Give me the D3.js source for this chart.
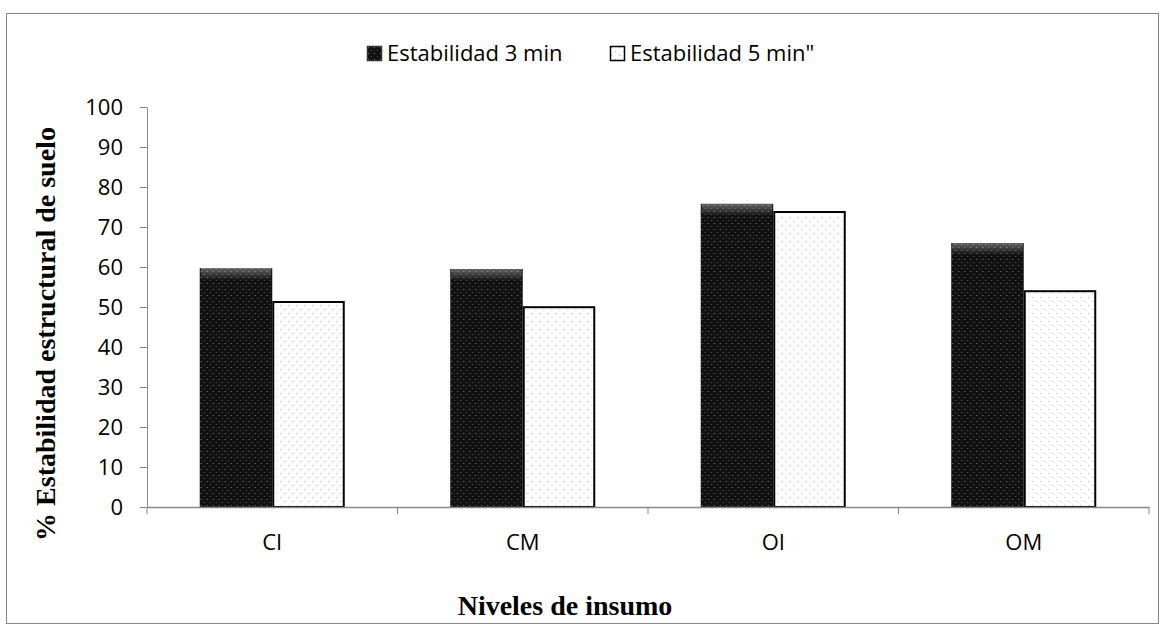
<!DOCTYPE html>
<html>
<head>
  <meta charset="utf-8" />
  <script src="https://d3js.org/d3.v7.min.js"></script>
  <style>
    body { margin: 0; background: #fff; }
  </style>
</head>
<body>
<script>
  const categories = ["CI", "CM", "OI", "OM"];
  const seriesNames = ["Estabilidad 3 min", "Estabilidad 5 min\""];
  const stab3 = [59.7, 59.5, 75.8, 66.0];
  const stab5 = [51.5, 50.2, 74.0, 54.2];
  const yTicks = [0, 10, 20, 30, 40, 50, 60, 70, 80, 90, 100];

  const width = 1167, height = 624;
  const plot = { left: 147, right: 1149, top: 107, bottom: 507 };
  const sans = "'Open Sans', sans-serif";
  const serif = "'Liberation Serif', 'Times New Roman', serif";

  const svg = d3.select("body").append("svg")
    .attr("width", width).attr("height", height);

  const defs = svg.append("defs");
  // dotted pattern for the dark bars
  const pDark = defs.append("pattern").attr("id", "dark")
    .attr("patternUnits", "userSpaceOnUse").attr("width", 6).attr("height", 6);
  pDark.append("rect").attr("width", 6).attr("height", 6).attr("fill", "#111");
  pDark.append("rect").attr("x", 1).attr("y", 1).attr("width", 1).attr("height", 1).attr("fill", "#777");
  pDark.append("rect").attr("x", 4).attr("y", 4).attr("width", 1).attr("height", 1).attr("fill", "#555");
  // dotted pattern for the light bars
  const pLight = defs.append("pattern").attr("id", "light")
    .attr("patternUnits", "userSpaceOnUse").attr("width", 8).attr("height", 8);
  pLight.append("rect").attr("width", 8).attr("height", 8).attr("fill", "#fff");
  pLight.append("rect").attr("x", 1).attr("y", 1).attr("width", 1).attr("height", 1).attr("fill", "#aaa");
  pLight.append("rect").attr("x", 5).attr("y", 5).attr("width", 1).attr("height", 1).attr("fill", "#bbb");
  // top bevel shading
  const g = defs.append("linearGradient").attr("id", "bevel")
    .attr("x1", 0).attr("y1", 0).attr("x2", 0).attr("y2", 1);
  g.append("stop").attr("offset", 0).attr("stop-color", "#fff").attr("stop-opacity", 0.35);
  g.append("stop").attr("offset", 1).attr("stop-color", "#fff").attr("stop-opacity", 0);

  // outer frame
  svg.append("rect").attr("x", 6.5).attr("y", 13.5).attr("width", 1152).attr("height", 610)
    .attr("fill", "none").attr("stroke", "#888").attr("stroke-width", 1);

  const x0 = d3.scaleBand().domain(categories).range([plot.left, plot.right]);
  const x1 = d3.scaleBand().domain([0, 1]).range([0, 145]);
  const y = d3.scaleLinear().domain([0, 100]).range([plot.bottom, plot.top]);

  const data = categories.map((c, i) => ({ cat: c, vals: [stab3[i], stab5[i]] }));

  const groups = svg.append("g").selectAll("g").data(data).join("g")
    .attr("transform", d => `translate(${x0(d.cat) + (x0.bandwidth() - 145) / 2},0)`);

  groups.each(function (d) {
    const gg = d3.select(this);
    // dark bar
    gg.append("rect")
      .attr("x", x1(0)).attr("y", y(d.vals[0]))
      .attr("width", x1.bandwidth()).attr("height", y(0) - y(d.vals[0]))
      .attr("fill", "url(#dark)");
    gg.append("rect")
      .attr("x", x1(0) + 1).attr("y", y(d.vals[0]))
      .attr("width", x1.bandwidth() - 2).attr("height", 12)
      .attr("fill", "url(#bevel)");
    // light bar
    gg.append("rect")
      .attr("x", x1(1) + 1).attr("y", y(d.vals[1]) + 1)
      .attr("width", x1.bandwidth() - 2).attr("height", y(0) - y(d.vals[1]) - 1)
      .attr("fill", "url(#light)").attr("stroke", "#000").attr("stroke-width", 2);
  });

  // axes
  const axisY = d3.axisLeft(y).tickValues(yTicks).tickSize(7).tickSizeOuter(0);
  const gy = svg.append("g").attr("transform", `translate(${plot.left},0)`).call(axisY);
  gy.select(".domain").attr("stroke", "#888");
  gy.selectAll(".tick line").attr("stroke", "#888");
  gy.selectAll("text").attr("font-family", sans).attr("font-size", 22)
    .attr("fill", "#000").attr("x", -24);

  const axisX = d3.axisBottom(x0).tickSize(0).tickSizeOuter(0);
  const gx = svg.append("g").attr("transform", `translate(0,${plot.bottom})`).call(axisX);
  gx.select(".domain").attr("stroke", "#888").attr("stroke-width", 1.5);
  gx.selectAll("text").attr("font-family", sans).attr("font-size", 22)
    .attr("fill", "#000").attr("y", 43).attr("dy", 0);
  // category separator ticks
  svg.append("g").selectAll("line").data(categories.concat(["end"])).join("line")
    .attr("x1", (d, i) => plot.left + i * x0.bandwidth())
    .attr("x2", (d, i) => plot.left + i * x0.bandwidth())
    .attr("y1", plot.bottom).attr("y2", plot.bottom + 7)
    .attr("stroke", "#888");

  // axis titles
  svg.append("text")
    .attr("transform", `translate(55,334) rotate(-90)`)
    .attr("text-anchor", "middle")
    .attr("font-family", serif).attr("font-weight", "bold").attr("font-size", 28)
    .text("% Estabilidad estructural de suelo");
  svg.append("text")
    .attr("x", 565).attr("y", 615).attr("text-anchor", "middle")
    .attr("font-family", serif).attr("font-weight", "bold").attr("font-size", 28)
    .text("Niveles de insumo");

  // legend
  const legX = [367, 610];
  const leg = svg.append("g").selectAll("g").data(seriesNames).join("g")
    .attr("transform", (d, i) => `translate(${legX[i]},46)`);
  leg.append("rect").attr("x", 0.5).attr("y", 0.5).attr("width", 14).attr("height", 14)
    .attr("fill", (d, i) => i === 0 ? "url(#dark)" : "url(#light)")
    .attr("stroke", (d, i) => i === 0 ? "#333" : "#000").attr("stroke-width", 1.5);
  leg.append("text").attr("x", 20).attr("y", 15)
    .attr("font-family", sans).attr("font-size", 22)
    .text(d => d);
</script>
</body>
</html>
